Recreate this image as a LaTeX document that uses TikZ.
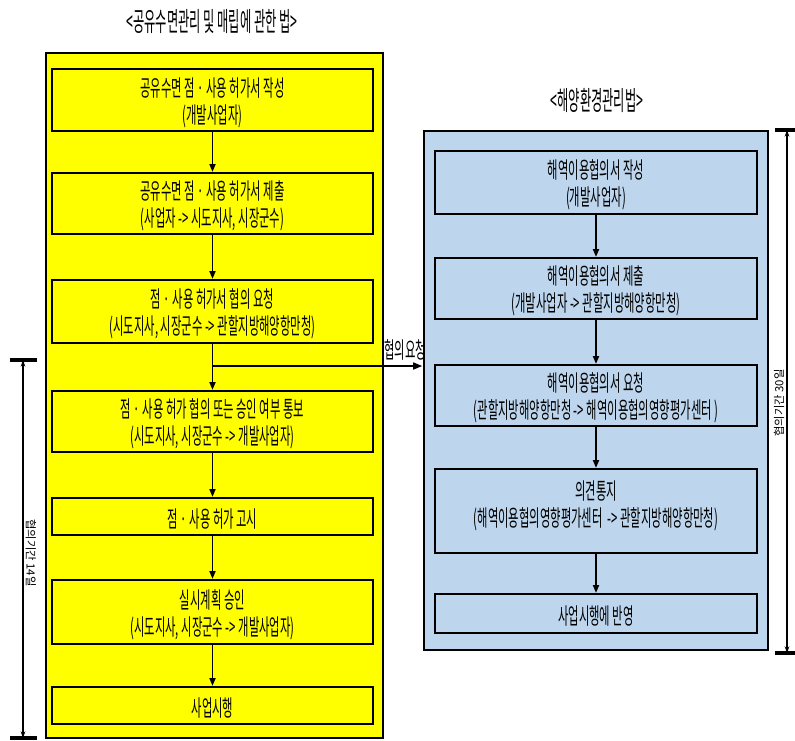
\documentclass[tikz,border=0pt]{standalone}
\usepackage{fontspec}
\newfontfamily\kr[FakeStretch=0.5]{Noto Sans CJK KR}
\newfontfamily\krt[FakeStretch=0.46]{Noto Sans CJK KR}
\newfontfamily\krv{Noto Sans CJK KR}
\usetikzlibrary{arrows.meta,fit,calc}
\definecolor{ylw}{RGB}{255,255,0}
\definecolor{lblue}{RGB}{190,214,237}
\begin{document}
\begin{tikzpicture}[x=0.75pt,y=-0.75pt,
  outerbox/.style={draw, line width=2.2pt, inner sep=0pt},
  stepbox/.style={draw, line width=1.5pt, inner sep=0pt},
  txt/.style={inner sep=0pt, align=center, yshift=-2pt,
    font=\kr\fontsize{17}{20.25}\selectfont},
  ttl/.style={font=\krt\fontsize{20}{22}\selectfont, inner sep=0pt},
  arr/.style={-{Triangle[length=6pt,width=4.5pt]}, line width=1.4pt},
  harr/.style={-{Triangle[length=7pt,width=5pt]}, line width=2.2pt},
  dim/.style={{Stealth[length=5pt,width=3.5pt]}-{Stealth[length=5pt,width=3.5pt]}, line width=0.8pt},
  bar/.style={line width=2.4pt},
  dimlbl/.style={font=\krv\fontsize{8.5}{9}\selectfont, inner sep=0pt}]
\useasboundingbox (0,0) rectangle (795,740);

% titles
\node[ttl] (tl) at (212,22) {<공유수면관리 및 매립에 관한 법>};
\node[ttl] (tr) at (597,100) {<해양환경관리법>};

% outer boxes
\node[outerbox, fill=ylw, fit={(46,53)(383,738)}] (LO) {};
\node[outerbox, fill=lblue, fit={(424,131)(768,650)}] (RO) {};

% left steps
\node[stepbox, fill=ylw, fit={(52,69)(373,131)}] (L1) {};
\node[stepbox, fill=ylw, fit={(52,173)(373,234)}] (L2) {};
\node[stepbox, fill=ylw, fit={(52,280)(373,343)}] (L3) {};
\node[stepbox, fill=ylw, fit={(52,391)(373,452)}] (L4) {};
\node[stepbox, fill=ylw, fit={(52,498)(373,535)}] (L5) {};
\node[stepbox, fill=ylw, fit={(52,580)(373,644)}] (L6) {};
\node[stepbox, fill=ylw, fit={(52,687)(373,724)}] (L7) {};
\node[txt] (L1t) at (L1) {공유수면 점 · 사용 허가서 작성\\(개발사업자)};
\node[txt] (L2t) at (L2) {공유수면 점 · 사용 허가서 제출\\(사업자 -> 시도지사, 시장군수)};
\node[txt] (L3t) at (L3) {점 · 사용 허가서 협의 요청\\(시도지사, 시장군수 -> 관할지방해양항만청)};
\node[txt] (L4t) at (L4) {점 · 사용 허가 협의 또는 승인 여부 통보\\(시도지사, 시장군수 -> 개발사업자)};
\node[txt] (L5t) at (L5) {점 · 사용 허가 고시};
\node[txt] (L6t) at (L6) {실시계획 승인\\(시도지사, 시장군수 -> 개발사업자)};
\node[txt] (L7t) at (L7) {사업시행};

% right steps
\node[stepbox, fill=lblue, fit={(435,151)(757,214)}] (R1) {};
\node[stepbox, fill=lblue, fit={(435,258)(757,319)}] (R2) {};
\node[stepbox, fill=lblue, fit={(435,365)(757,426)}] (R3) {};
\node[stepbox, fill=lblue, fit={(435,469)(757,553)}] (R4) {};
\node[stepbox, fill=lblue, fit={(435,594)(757,633)}] (R5) {};
\node[txt] (R1t) at (R1) {해역이용협의서 작성\\(개발사업자)};
\node[txt] (R2t) at (R2) {해역이용협의서 제출\\(개발사업자 -> 관할지방해양항만청)};
\node[txt] (R3t) at (R3) {해역이용협의서 요청\\(관할지방해양항만청 -> 해역이용협의영향평가센터 )};
\node[txt, yshift=6pt] (R4t) at (R4) {의견통지\\(해역이용협의영향평가센터 \ -> 관할지방해양항만청)};
\node[txt] (R5t) at (R5) {사업시행에 반영};

% left arrows
\draw[arr] (L1) -- (L2);
\draw[arr] (L2) -- (L3);
\draw[arr] (L3) -- (L4);
\draw[arr] (L4) -- (L5);
\draw[arr] (L5) -- (L6);
\draw[arr] (L6) -- (L7);

% right arrows
\draw[arr] (R1) -- (R2);
\draw[arr] (R2) -- (R3);
\draw[arr] (R3) -- (R4);
\draw[arr] (R4) -- (R5);

% request arrow
\coordinate (br) at ($(L3.south)+(0,22)$);
\draw[harr] (br) -- (br -| RO.west);
\node[txt, yshift=0pt] (hl) at (405,347) {협의요청};

% left dimension
\coordinate (dlt) at (23,360);
\coordinate (dlb) at (23,738);
\draw[bar] ($(dlt)+(-13,0)$) -- ($(dlt)+(14,0)$);
\draw[bar] ($(dlb)+(-13,0)$) -- ($(dlb)+(14,0)$);
\draw[dim] (dlt) -- (dlb);
\node[dimlbl, rotate=-90] (dll) at (31,553) {협의기간 14일};

% right dimension
\coordinate (drt) at (787,130);
\coordinate (drb) at (787,653);
\draw[bar] ($(drt)+(-12,0)$) -- ($(drt)+(10,0)$);
\draw[bar] ($(drb)+(-12,0)$) -- ($(drb)+(10,0)$);
\draw[dim] (drt) -- (drb);
\node[dimlbl, rotate=90] (drl) at (779,403) {협의기간 30일};
\end{tikzpicture}
\end{document}
